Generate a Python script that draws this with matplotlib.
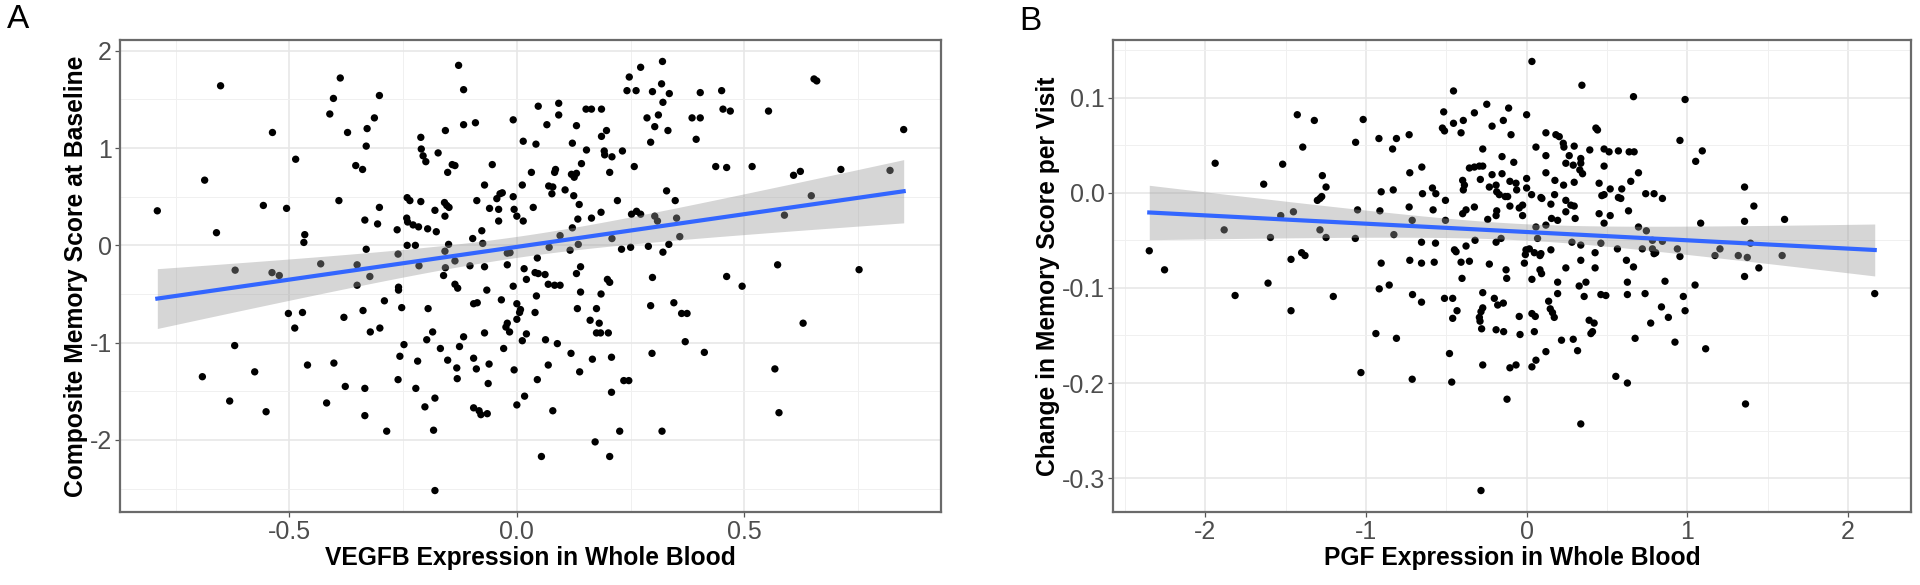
import numpy as np
import matplotlib
matplotlib.use("Agg")
import matplotlib.pyplot as plt
from matplotlib.ticker import FixedLocator

# ---- panel A: VEGFB expression vs composite memory score at baseline ----
vegfb_expr = [
    -0.790, -0.651, -0.686, -0.660, -0.619, -0.537, -0.486, -0.557, -0.506, -0.466,
    -0.468, -0.538, -0.522, -0.431, -0.388, -0.403, -0.411, -0.372, -0.391, -0.302,
    -0.313, -0.329, -0.331, -0.354, -0.339, -0.302, -0.334, -0.306, -0.331, -0.351,
    -0.323, -0.351, -0.260, -0.260, -0.263, -0.261, -0.241, -0.235, -0.211, -0.242,
    -0.240, -0.228, -0.216, -0.241, -0.223, -0.215, -0.211, -0.210, -0.206, -0.200,
    -0.173, -0.196, -0.177, -0.180, -0.157, -0.152, -0.142, -0.136, -0.159, -0.154,
    -0.149, -0.158, -0.150, -0.158, -0.136, -0.157, -0.161, -0.136, -0.130, -0.128,
    -0.117, -0.117, -0.091, -0.054, -0.071, -0.088, -0.060, -0.044, -0.037, -0.032,
    -0.040, -0.040, -0.077, -0.097, -0.075, -0.103, -0.071, -0.066, -0.008, -0.008,
    -0.006, 0.000, 0.014, -0.021, -0.015, -0.021, -0.008, 0.014, 0.012, 0.032,
    0.036, 0.042, 0.047, 0.066, 0.092, 0.092, 0.070, 0.079, 0.077, 0.085,
    0.083, 0.016, 0.040, 0.047, 0.062, 0.045, 0.021, 0.043, 0.069, 0.083,
    0.095, 0.071, 0.095,
    # lower left
    -0.502, -0.471, -0.488, -0.620, -0.691, -0.576, -0.631, -0.551, -0.460, -0.402,
    -0.418, -0.380, -0.377, -0.338, -0.322, -0.301, -0.334, -0.334, -0.291, -0.286,
    -0.253, -0.248, -0.257, -0.261, -0.222, -0.218, -0.195, -0.185, -0.198, -0.168,
    -0.180, -0.202, -0.183, -0.180, -0.152, -0.132, -0.131, -0.126, -0.117, -0.095,
    -0.087, -0.095, -0.089, -0.071, -0.061, -0.063, -0.095, -0.083, -0.079, -0.065,
    -0.034, -0.029, -0.024, -0.016, -0.021, -0.006, 0.000, 0.008, 0.006, 0.000,
    0.000, 0.012, 0.021, 0.017, 0.040, 0.045, 0.054, 0.063, 0.069, 0.079,
    0.089,
    # lower right
    0.119, 0.138, 0.133, 0.161, 0.181, 0.175, 0.184, 0.201, 0.175, 0.166,
    0.208, 0.208, 0.235, 0.246, 0.226, 0.172, 0.204, 0.294, 0.297, 0.345,
    0.362, 0.374, 0.370, 0.412, 0.319, 0.567, 0.576, 0.629,
    # upper right
    0.122, 0.131, 0.152, 0.164, 0.186, 0.197, 0.186, 0.153, 0.192, 0.193,
    0.209, 0.232, 0.142, 0.131, 0.120, 0.126, 0.106, 0.125, 0.137, 0.134,
    0.164, 0.185, 0.122, 0.117, 0.135, 0.140, 0.131, 0.140, 0.185, 0.199,
    0.204, 0.204, 0.209, 0.221, 0.230, 0.250, 0.247, 0.272, 0.320, 0.242,
    0.262, 0.298, 0.318, 0.335, 0.321, 0.286, 0.311, 0.303, 0.332, 0.294,
    0.258, 0.329, 0.348, 0.252, 0.263, 0.272, 0.303, 0.309, 0.351, 0.358,
    0.334, 0.289, 0.321, 0.298, 0.403, 0.450, 0.453, 0.469, 0.385, 0.403,
    0.394, 0.437, 0.461, 0.517, 0.461, 0.495, 0.553, 0.653, 0.659, 0.608,
    0.623, 0.647, 0.588, 0.573, 0.712, 0.820, 0.752, 0.850,
]
memory_baseline = [
    0.355, 1.64, 0.67, 0.13, -0.255, 1.16, 0.885, 0.41, 0.38, 0.11,
    0.03, -0.28, -0.31, -0.19, 1.72, 1.51, 1.35, 1.16, 0.46, 1.54,
    1.31, 1.20, 1.02, 0.82, 0.78, 0.39, 0.26, 0.22, -0.04, -0.20,
    -0.32, -0.41, -0.43, -0.46, 0.16, -0.09, 0.49, 0.46, 0.45, 0.28,
    0.24, 0.21, 0.19, 0.00, 0.00, -0.21, 1.11, 0.99, 0.92, 0.86,
    0.95, 0.17, 0.14, 0.36, 1.18, 0.75, 0.83, 0.82, 0.44, 0.41,
    0.39, 0.30, 0.01, -0.06, -0.16, -0.23, -0.31, -0.40, -0.44, 1.85,
    1.60, 1.24, 1.26, 0.83, 0.62, 0.46, 0.38, 0.48, 0.53, 0.54,
    0.37, 0.25, 0.15, 0.07, 0.02, -0.21, -0.22, -0.46, 1.29, 0.50,
    0.37, 0.30, 0.25, -0.08, -0.075, -0.20, -0.42, 1.07, 0.62, 0.75,
    0.39, 1.04, 1.43, 1.24, 1.46, 1.34, 0.61, 0.60, 0.53, 0.78,
    0.75, -0.24, -0.28, -0.29, -0.30, -0.13, -0.35, -0.52, -0.40, -0.41,
    -0.41, -0.02, 0.10,
    # lower left
    -0.70, -0.69, -0.85, -1.03, -1.35, -1.30, -1.60, -1.71, -1.23, -1.21,
    -1.62, -0.74, -1.45, -0.67, -0.89, -0.85, -1.47, -1.75, -0.57, -1.91,
    -0.64, -1.02, -1.14, -1.38, -1.47, -1.19, -0.65, -0.89, -0.97, -1.06,
    -1.57, -1.66, -1.90, -2.52, -1.18, -1.26, -1.37, -1.04, -0.94, -0.60,
    -0.59, -1.16, -1.27, -0.90, -1.22, -1.42, -1.67, -1.70, -1.74, -1.73,
    -0.56, -1.06, -0.84, -0.89, -0.80, -1.28, -0.60, -0.66, -0.69, -0.76,
    -1.64, -0.98, -0.91, -1.55, -0.69, -1.38, -2.17, -0.97, -1.23, -1.70,
    -1.01,
    # lower right
    -1.11, -1.30, -0.65, -0.77, -0.80, -0.90, -0.90, -0.90, -0.65, -1.17,
    -1.15, -1.51, -1.39, -1.39, -1.91, -2.02, -2.17, -0.62, -1.11, -0.59,
    -0.70, -0.70, -0.99, -1.10, -1.91, -1.27, -1.72, -0.80,
    # upper right
    1.05, 1.23, 1.40, 1.40, 1.40, 1.18, 1.12, 0.98, 0.97, 0.93,
    0.91, 0.97, 0.84, 0.74, 0.73, 0.70, 0.57, 0.51, 0.42, 0.27,
    0.28, 0.34, 0.18, -0.05, 0.01, -0.22, -0.29, -0.48, -0.50, -0.35,
    -0.38, 0.75, 0.07, 0.46, -0.04, -0.02, 1.73, 1.83, 1.89, 1.59,
    1.59, 1.58, 1.66, 1.56, 1.47, 1.31, 1.34, 1.22, 1.18, 1.06,
    0.81, 0.56, 0.46, 0.32, 0.35, 0.32, 0.30, 0.25, 0.28, 0.09,
    0.01, -0.01, -0.07, -0.33, 1.57, 1.59, 1.40, 1.38, 1.31, 1.31,
    1.09, 0.81, 0.80, 0.81, -0.32, -0.42, 1.38, 1.71, 1.69, 0.72,
    0.76, 0.51, 0.31, -0.20, 0.78, 0.77, -0.25, 1.19,
]

# ---- panel B: PGF expression vs change in memory score per visit ----
pgf_expr = [
    -2.348, -2.253, -1.938, -1.882, -1.814, -1.636, -1.609, -1.594, -1.530, -1.518,
    -1.466, -1.451, -1.427, -1.400, -1.379, -1.393, -1.321, -1.302, -1.286, -1.275,
    -1.271, -1.248, -1.286, -1.248, -1.203, -1.064, -1.017, -1.052, -1.066, -0.919,
    -0.834, -0.810, -0.905, -0.830, -0.913, -0.826, -0.731, -0.727, -0.652, -0.731,
    -0.712, -0.648, -0.586, -0.565, -0.582, -0.654, -0.567, -0.727, -0.654, -0.575,
    -0.905, -0.917, -0.855, -0.710, -0.516, -0.524,
    -1.466, -0.654, -0.938, -0.810, -1.031, -0.712,
    -0.455, -0.511, -0.455, -0.408, -0.394, -0.325, -0.248, -0.112, -0.145, -0.215,
    -0.097, 0.000, 0.033, 0.344, 0.665, 0.986, -0.273, -0.153, -0.080, -0.356,
    -0.325, -0.294, -0.273, -0.288, -0.215, -0.153, -0.398, -0.387, -0.394, -0.505,
    -0.232, -0.190, -0.186, -0.170, -0.133, -0.118, -0.104, -0.066, -0.062, 0.000,
    0.000, 0.031, 0.120, 0.089, -0.104, -0.025, -0.046, -0.186, -0.190, -0.025,
    -0.325, -0.377, -0.398, -0.505, -0.242, 0.058, 0.120, 0.182, 0.203, 0.228,
    0.232, 0.296, 0.120, 0.265, 0.244, 0.290, 0.337, 0.337, 0.331, 0.348,
    0.296, 0.230, 0.176, 0.174, 0.151, 0.095, 0.244, 0.275, 0.296, 0.244,
    0.155, 0.193, 0.302, 0.393, 0.431, 0.441, 0.482, 0.513, 0.571, 0.638,
    0.669, 0.482, 0.696, 0.648, 0.451, 0.520, 0.592, 0.482, 0.468, 0.571,
    0.586, 0.741, 0.793, 0.845, 0.634, 0.451, 0.520, 0.482, 0.696, 0.745,
    0.954, 1.093, 1.052, 1.356, 1.414, 1.083, 1.356, 1.605, 0.068, 0.058,
    0.120, -0.159, -0.190, -0.321, -0.377, -0.449, -0.439, -0.408, -0.356, -0.232,
    -0.128, -0.124, -0.402, -0.004, 0.017, -0.008, 0.048, -0.014, 0.089, 0.083,
    0.151, 0.083, 0.093, 0.033, 0.193, 0.244, 0.282, 0.337, 0.337, 0.426,
    0.426, 0.462, 0.565, 0.621, 0.665, 0.627, 0.369, 0.327, 0.720, 0.783,
    0.793, 0.803, 0.783, 0.845, 0.861, 0.938, 0.954, 1.048, 1.172, 1.203,
    1.317, 1.373, 1.356, 1.445, 1.590, 1.393, 2.166, -0.273, -0.201, -0.511,
    -0.460, 0.193, 0.358, 0.462, 0.493, 0.627, 0.737, 0.975,
    -0.433, -0.460, -0.480, -0.466, -0.273, -0.284, -0.294, -0.290, -0.280, -0.273,
    -0.180, -0.145, -0.190, -0.143, -0.104, -0.066, -0.122, -0.284, -0.046, -0.041,
    0.033, 0.054, 0.048, 0.033, 0.058, 0.120, 0.137, 0.147, 0.161, 0.172,
    0.217, 0.290, 0.317, 0.337, 0.389, 0.420, 0.400, 0.410, 0.555, 0.627,
    0.675, 0.772, 0.839, 0.882, 0.923, 0.986, 1.114, 1.362,
]
memory_change = [
    -0.061, -0.081, 0.031, -0.039, -0.108, 0.009, -0.095, -0.047, -0.024, 0.030,
    -0.070, -0.020, 0.082, -0.063, -0.066, 0.048, 0.076, -0.008, -0.006, -0.004,
    0.018, 0.006, -0.039, -0.047, -0.109, 0.053, 0.077, -0.018, -0.048, 0.057,
    0.046, 0.057, 0.001, 0.003, -0.019, -0.044, 0.061, 0.021, 0.027, -0.015,
    -0.029, -0.001, 0.005, -0.001, -0.018, -0.052, -0.053, -0.071, -0.074, -0.073,
    -0.074, -0.101, -0.097, -0.107, 0.085, 0.068,
    -0.124, -0.115, -0.148, -0.153, -0.189, -0.196,
    0.107, 0.065, 0.073, 0.063, 0.076, 0.084, 0.093, 0.089, 0.076, 0.070,
    0.061, 0.082, 0.138, 0.113, 0.101, 0.098, 0.046, 0.038, 0.032, 0.026,
    0.027, 0.028, 0.028, 0.014, 0.019, 0.020, 0.013, 0.008, 0.003, -0.008,
    0.006, 0.008, 0.001, -0.002, -0.004, -0.004, 0.012, 0.010, 0.003, 0.015,
    0.005, -0.002, 0.021, -0.005, -0.014, -0.013, -0.016, -0.019, -0.024, -0.024,
    -0.015, -0.018, -0.022, -0.029, -0.028, 0.048, 0.063, 0.061, 0.059, 0.052,
    0.048, 0.049, 0.039, 0.039, 0.031, 0.029, 0.036, 0.031, 0.024, 0.020,
    0.011, 0.008, 0.013, -0.002, -0.012, -0.006, -0.008, -0.013, -0.014, -0.020,
    -0.027, -0.029, -0.027, 0.045, 0.068, 0.066, 0.046, 0.043, 0.044, 0.043,
    0.043, 0.028, 0.021, 0.012, 0.010, 0.004, 0.004, -0.002, -0.003, -0.005,
    -0.006, -0.001, -0.001, -0.006, -0.019, -0.022, -0.024, -0.032, -0.036, -0.040,
    0.055, 0.044, 0.033, 0.006, -0.014, -0.032, -0.030, -0.028, -0.048, -0.036,
    -0.034, -0.048, -0.052, -0.050, -0.056, -0.060, -0.062, -0.073, -0.072, -0.075,
    -0.081, -0.090, -0.090, -0.060, -0.059, -0.065, -0.063, -0.074, -0.064, -0.066,
    -0.060, -0.081, -0.085, -0.091, -0.094, -0.079, -0.052, -0.055, -0.071, -0.063,
    -0.079, -0.053, -0.059, -0.071, -0.078, -0.094, -0.094, -0.098, -0.059, -0.059,
    -0.064, -0.063, -0.050, -0.051, -0.093, -0.059, -0.067, -0.097, -0.066, -0.059,
    -0.066, -0.068, -0.088, -0.079, -0.066, -0.053, -0.106, -0.105, -0.111, -0.111,
    -0.111, -0.106, -0.109, -0.107, -0.108, -0.107, -0.106, -0.109,
    -0.124, -0.132, -0.169, -0.199, -0.121, -0.125, -0.131, -0.135, -0.143, -0.181,
    -0.118, -0.116, -0.144, -0.146, -0.184, -0.181, -0.217, -0.313, -0.130, -0.149,
    -0.127, -0.130, -0.146, -0.183, -0.176, -0.167, -0.114, -0.122, -0.126, -0.131,
    -0.155, -0.154, -0.166, -0.243, -0.134, -0.137, -0.148, -0.146, -0.193, -0.200,
    -0.153, -0.137, -0.120, -0.131, -0.157, -0.124, -0.164, -0.222,
]

a_xticks = [-0.5, 0.0, 0.5]
a_xlabels = ["-0.5", "0.0", "0.5"]
a_yticks = [-2, -1, 0, 1, 2]
a_ylabels = ["-2", "-1", "0", "1", "2"]
b_xticks = [-2, -1, 0, 1, 2]
b_xlabels = ["-2", "-1", "0", "1", "2"]
b_yticks = [-0.3, -0.2, -0.1, 0.0, 0.1]
b_ylabels = ["-0.3", "-0.2", "-0.1", "0.0", "0.1"]

plt.rcParams['font.family'] = ['Liberation Sans', 'DejaVu Sans']


def expand(v):
    # ggplot style 5% padding on each side
    lo, hi = np.min(v), np.max(v)
    pad = 0.05 * (hi - lo)
    return lo - pad, hi + pad


def lm_band(x, y, t=1.97):
    # straight line fit with 95% confidence band
    slope, icpt = np.polyfit(x, y, 1)
    xs = np.linspace(x.min(), x.max(), 100)
    fit = icpt + slope * xs
    res = y - (icpt + slope * x)
    n = len(x)
    s = np.sqrt(np.sum(res ** 2) / (n - 2))
    se = s * np.sqrt(1.0 / n + (xs - x.mean()) ** 2 / np.sum((x - x.mean()) ** 2))
    return xs, fit, fit - t * se, fit + t * se


def half_steps(t):
    t = np.asarray(t, dtype=float)
    step = t[1] - t[0]
    return np.concatenate([[t[0] - step / 2], t[:-1] + step / 2, [t[-1] + step / 2]])


def panel(ax, x, y, xt, xl, yt, yl, xlabel, ylabel):
    x = np.asarray(x)
    y = np.asarray(y)
    ax.set_xlim(*expand(x))
    ax.set_ylim(*expand(y))
    ax.set_xticks(xt)
    ax.set_xticklabels(xl)
    ax.set_yticks(yt)
    ax.set_yticklabels(yl)
    ax.xaxis.set_minor_locator(FixedLocator(half_steps(xt)))
    ax.yaxis.set_minor_locator(FixedLocator(half_steps(yt)))
    ax.grid(which='major', color='#e6e6e6', lw=1.1, zorder=0)
    ax.grid(which='minor', color='#f0f0f0', lw=0.7, zorder=0)
    ax.set_axisbelow(True)
    ax.tick_params(which='minor', length=0)
    ax.tick_params(which='major', length=3.5, width=0.9, color='#555555',
                   labelsize=18, labelcolor='#4d4d4d', pad=2.5)
    for sp in ax.spines.values():
        sp.set_color('#6a6a6a')
        sp.set_linewidth(1.6)

    ax.scatter(x, y, s=28, c='black', edgecolors='none', zorder=2)
    xs, fit, lo, hi = lm_band(x, y)
    ax.fill_between(xs, lo, hi, color='#999999', alpha=0.4, lw=0, zorder=3)
    ax.plot(xs, fit, color='#3366FF', lw=3, zorder=4)
    ax.set_xlabel(xlabel, fontsize=17.7, fontweight='bold', labelpad=1)
    ax.set_ylabel(ylabel, fontsize=17.7, fontweight='bold', labelpad=1)


fig = plt.figure(figsize=(19.2, 5.85), dpi=100)
ax1 = fig.add_axes([120 / 1920, 1 - 512 / 585, (941 - 120) / 1920, (512 - 40) / 585])
ax2 = fig.add_axes([1113 / 1920, 1 - 512 / 585, (1911 - 1113) / 1920, (512 - 40) / 585])

panel(ax1, vegfb_expr, memory_baseline, a_xticks, a_xlabels, a_yticks, a_ylabels,
      'VEGFB Expression in Whole Blood', 'Composite Memory Score at Baseline')
panel(ax2, pgf_expr, memory_change, b_xticks, b_xlabels, b_yticks, b_ylabels,
      'PGF Expression in Whole Blood', 'Change in Memory Score per Visit')

fig.text(18 / 1920, 1 - 20 / 585, 'A', fontsize=24, ha='center', va='center')
fig.text(1030 / 1920, 1 - 21 / 585, 'B', fontsize=24, ha='center', va='center')

fig.savefig('out.png', dpi=100)
